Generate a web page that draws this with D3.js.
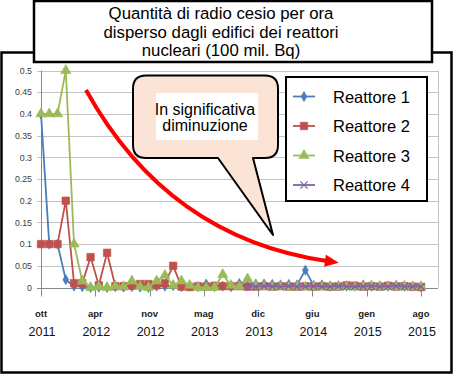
<!DOCTYPE html>
<html><head><meta charset="utf-8">
<script src="https://cdn.jsdelivr.net/npm/d3@7"></script>
<style>html,body{margin:0;padding:0;background:#fff;}svg{display:block;}</style>
</head><body>
<script>
// ---- data ----
const titleLines = ["Quantità di radio cesio per ora", "disperso dagli edifici dei reattori", "nucleari (100 mil. Bq)"];
const seriesNames = ["Reattore 1", "Reattore 2", "Reattore 3", "Reattore 4"];
const tickMonths = ["ott", "apr", "nov", "mag", "dic", "giu", "gen", "ago"];
const tickYears = ["2011", "2012", "2012", "2013", "2013", "2014", "2015", "2015"];
const yTicks = [0, 0.05, 0.1, 0.15, 0.2, 0.25, 0.3, 0.35, 0.4, 0.45, 0.5];
const reattore1 = [0.4, 0.1, 0.1, 0.018, 0.003, 0.002, 0.0, 0.001, 0.0, 0.002, 0.001, 0.002, 0.001, 0.0, 0.003, 0.003, 0.004, 0.002, 0.003, 0.002, 0.008, 0.002, 0.003, 0.002, 0.009, 0.004, 0.008, 0.008, 0.007, 0.006, 0.007, 0.006, 0.04, 0.005, 0.006, 0.003, 0.004, 0.003, 0.003, 0.006, 0.003, 0.004, 0.003, 0.005, 0.003, 0.003, 0.002];
const reattore2 = [0.1, 0.1, 0.1, 0.2, 0.01, 0.01, 0.07, 0.005, 0.08, 0.003, 0.003, 0.004, 0.008, 0.008, 0.005, 0.01, 0.05, 0.002, 0.001, 0.003, 0.002, 0.004, 0.003, 0.003, 0.003, 0.002, 0.002, 0.003, 0.002, 0.003, 0.002, 0.002, 0.003, 0.002, 0.003, 0.002, 0.002, 0.005, 0.004, 0.002, 0.003, 0.002, 0.004, 0.002, 0.003, 0.002, 0.001];
const reattore3 = [0.4, 0.4, 0.4, 0.5, 0.1, 0.015, 0.0, 0.002, 0.0, 0.003, 0.002, 0.015, 0.002, 0.0, 0.015, 0.028, 0.005, 0.015, 0.005, 0.0, 0.0, 0.0, 0.03, 0.005, 0.002, 0.02, 0.004, 0.002, 0.001, 0.002, 0.001, 0.002, 0.001, 0.002, 0.001, 0.002, 0.001, 0.003, 0.001, 0.002, 0.004, 0.001, 0.002, 0.001, 0.003, 0.001, 0.002];
const reattore4 = [null, null, null, null, null, null, null, null, null, null, null, null, null, null, null, null, null, null, null, null, null, null, null, null, null, 0.002, 0.002, 0.003, 0.002, 0.002, 0.003, 0.002, 0.002, 0.003, 0.002, 0.002, 0.003, 0.002, 0.002, 0.002, 0.003, 0.002, 0.002, 0.003, 0.002, 0.002, 0.002];
const calloutLines = ["In significativa", "diminuzione"];

// ---- layout ----
const W = 454, H = 375;
const colors = ["#4a7ebb", "#c0504d", "#9bbb59", "#8064a2"];
const symbols = ["diamond", "square", "triangle", "cross"];
const allSeries = [reattore1, reattore2, reattore3, reattore4];
const nPts = reattore1.length;

const svg = d3.select("body").append("svg").attr("width", W).attr("height", H);

// outer frame
svg.append("rect").attr("x", 1.5).attr("y", 52.5).attr("width", 450).attr("height", 320)
  .attr("fill", "#fff").attr("stroke", "#000").attr("stroke-width", 2.5);

const x = d3.scaleLinear().domain([0, nPts - 1]).range([41, 421]);
const y = d3.scaleLinear().domain([0, 0.5]).range([287.5, 70.5]);
const plotRight = 438;

// gridlines
svg.append("g").selectAll("line").data(yTicks).join("line")
  .attr("x1", 37).attr("x2", plotRight)
  .attr("y1", d => Math.round(y(d)) + 0.5).attr("y2", d => Math.round(y(d)) + 0.5)
  .attr("stroke", d => d === 0 ? "#868686" : "#c4c4c4").attr("stroke-width", 1);
// plot right border
svg.append("line").attr("x1", plotRight + 0.5).attr("x2", plotRight + 0.5)
  .attr("y1", y(0.5)).attr("y2", y(0)).attr("stroke", "#c4c4c4");
// y axis line
svg.append("line").attr("x1", 41.5).attr("x2", 41.5).attr("y1", y(0.5)).attr("y2", y(0))
  .attr("stroke", "#868686");
// y labels
svg.append("g").selectAll("text").data(yTicks).join("text")
  .attr("x", 32).attr("y", d => y(d) + 3.2).attr("text-anchor", "end")
  .attr("font-family", "Liberation Sans, Arial, sans-serif").attr("font-size", 8.8)
  .attr("fill", "#404040").text(d => d3.format("")(d));

// x ticks
const tickIdx = tickMonths.map((m, i) => i * (nPts - 1) / (tickMonths.length - 1));
svg.append("g").selectAll("line").data(tickIdx).join("line")
  .attr("x1", d => Math.round(x(d)) + 0.5).attr("x2", d => Math.round(x(d)) + 0.5)
  .attr("y1", y(0)).attr("y2", y(0) + 9).attr("stroke", "#868686");
svg.append("g").selectAll("text").data(tickIdx).join("text")
  .attr("x", d => x(d)).attr("y", 317).attr("text-anchor", "middle")
  .attr("font-family", "Liberation Sans, Arial, sans-serif").attr("font-size", 9.5)
  .attr("font-weight", "bold").attr("fill", "#222").text((d, i) => tickMonths[i]);
svg.append("g").selectAll("text").data(tickIdx).join("text")
  .attr("x", d => x(d) + 1).attr("y", 335.5).attr("text-anchor", "middle")
  .attr("font-family", "Liberation Sans, Arial, sans-serif").attr("font-size", 12.5)
  .attr("fill", "#111").text((d, i) => tickYears[i]);

// marker symbol generator
function markerPath(type) {
  if (type === "diamond") return d3.symbol(d3.symbolDiamond, 30)();
  if (type === "square") return d3.symbol(d3.symbolSquare, 56)();
  if (type === "triangle") return d3.symbol(d3.symbolTriangle, 45)();
  return d3.symbol(d3.symbolTimes, 36)();
}

// series
allSeries.forEach((vals, si) => {
  const pts = vals.map((v, i) => ({i, v})).filter(p => p.v !== null);
  const line = d3.line().x(p => x(p.i)).y(p => y(p.v));
  const g = svg.append("g");
  g.append("path").attr("d", line(pts)).attr("fill", "none")
    .attr("stroke", colors[si]).attr("stroke-width", 1.8).attr("stroke-linejoin", "round");
  const mp = markerPath(symbols[si]);
  g.selectAll("path.m").data(pts).join("path").attr("class", "m")
    .attr("d", mp).attr("transform", p => `translate(${x(p.i)},${y(p.v)})`)
    .attr("fill", symbols[si] === "cross" ? "none" : colors[si])
    .attr("stroke", colors[si]).attr("stroke-width", symbols[si] === "cross" ? 1.4 : 0.6);
});

// red arrow
const p0 = [86, 90], p1 = [168, 238], p2 = [327, 261];
svg.append("path").attr("d", `M${p0}Q${p1} ${p2}`).attr("fill", "none")
  .attr("stroke", "#ff0000").attr("stroke-width", 4);
{
  const dx = p2[0] - p1[0], dy = p2[1] - p1[1], L = Math.hypot(dx, dy);
  const ux = dx / L, uy = dy / L, nx = -uy, ny = ux;
  const tip = [p2[0] + ux * 12, p2[1] + uy * 12];
  const b = [p2[0] - ux * 2, p2[1] - uy * 2];
  svg.append("path").attr("d",
    `M${tip}L${b[0] + nx * 6},${b[1] + ny * 6}L${b[0] - nx * 6},${b[1] - ny * 6}Z`)
    .attr("fill", "#ff0000");
}

// callout bubble
{
  const l = 133, t = 75.5, r = 278, b = 158, rr = 13;
  const t1 = 218, t2 = 253, tip = [273, 235];
  const d = `M${l + rr},${t}H${r - rr}Q${r},${t} ${r},${t + rr}V${b - rr}Q${r},${b} ${r - rr},${b}` +
    `H${t2}L${tip}L${t1},${b}H${l + rr}Q${l},${b} ${l},${b - rr}V${t + rr}Q${l},${t} ${l + rr},${t}Z`;
  svg.append("path").attr("d", d).attr("fill", "#fbe4d5").attr("stroke", "#000").attr("stroke-width", 2)
    .attr("stroke-linejoin", "round");
  svg.append("rect").attr("x", 156).attr("y", 93).attr("width", 102).attr("height", 47).attr("fill", "#fff");
  svg.append("g").selectAll("text").data(calloutLines).join("text")
    .attr("x", 205).attr("y", (d, i) => 115 + i * 16).attr("text-anchor", "middle")
    .attr("font-family", "Liberation Sans, Arial, sans-serif").attr("font-size", 16)
    .attr("fill", "#000").text(d => d);
}

// legend
{
  const lg = svg.append("g");
  lg.append("rect").attr("x", 286).attr("y", 77).attr("width", 141).attr("height", 124)
    .attr("fill", "#fff").attr("stroke", "#000").attr("stroke-width", 2);
  seriesNames.forEach((name, si) => {
    const cy = 96.5 + si * 29.5;
    lg.append("line").attr("x1", 293).attr("x2", 315).attr("y1", cy).attr("y2", cy)
      .attr("stroke", colors[si]).attr("stroke-width", 1.8);
    lg.append("path").attr("d", markerPath(symbols[si])).attr("transform", `translate(304,${cy})`)
      .attr("fill", symbols[si] === "cross" ? "none" : colors[si])
      .attr("stroke", colors[si]).attr("stroke-width", symbols[si] === "cross" ? 1.4 : 0.6);
    lg.append("text").attr("x", 333).attr("y", cy + 6)
      .attr("font-family", "Liberation Sans, Arial, sans-serif").attr("font-size", 16.5)
      .attr("fill", "#000").text(name);
  });
}

// title box
svg.append("rect").attr("x", 34).attr("y", 1).attr("width", 398).attr("height", 61)
  .attr("fill", "#fff").attr("stroke", "#000").attr("stroke-width", 2.5);
svg.append("g").selectAll("text").data(titleLines).join("text")
  .attr("x", 221).attr("y", (d, i) => 19 + i * 18.5).attr("text-anchor", "middle")
  .attr("font-family", "Liberation Sans, Arial, sans-serif").attr("font-size", 16.8)
  .attr("fill", "#000").text(d => d);
</script>
</body></html>
